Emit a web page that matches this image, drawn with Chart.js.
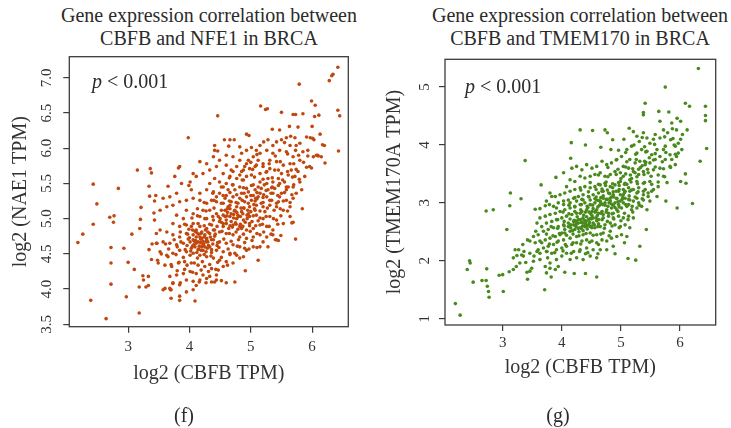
<!DOCTYPE html>
<html>
<head>
<meta charset="utf-8">
<script src="https://cdn.jsdelivr.net/npm/chart.js@4.4.1/dist/chart.umd.min.js"></script>
<style>
body { margin: 0; background: #fff; }
#wrap { position: relative; width: 731px; height: 428px; font-family: "Liberation Serif", serif; color: #2b2b2b; }
.ttl { position: absolute; text-align: center; font-size: 20px; line-height: 23px; white-space: nowrap; }
.pval { position: absolute; font-size: 20px; line-height: 20px; }
.tag { position: absolute; font-size: 20px; line-height: 20px; text-align: center; width: 40px; }
canvas { position: absolute; top: 0; }
</style>
</head>
<body>
<div id="wrap">
  <div class="ttl" style="left:49px;width:320px;top:4px;">Gene expression correlation between<br>CBFB and NFE1 in BRCA</div>
  <div class="ttl" style="left:420px;width:320px;top:4px;">Gene expression correlation between<br>CBFB and TMEM170 in BRCA</div>
  <canvas id="nae1Chart" width="370" height="428" style="left:0;"></canvas>
  <canvas id="tmemChart" width="361" height="428" style="left:370px;"></canvas>
  <div class="pval" style="left:92px;top:71px;"><i>p</i> &lt; 0.001</div>
  <div class="pval" style="left:465px;top:76px;"><i>p</i> &lt; 0.001</div>
  <div class="tag" style="left:164px;top:405px;">(f)</div>
  <div class="tag" style="left:538px;top:405px;">(g)</div>
</div>
<script>
// log2(CBFB TPM) vs log2(NAE1 TPM)
const nae1Points = [
  [2.18,4.66],[2.26,4.78],[2.39,3.84],[2.43,5.49],[2.43,4.92],[2.49,5.21],[2.64,3.58],[2.70,5.02],[2.77,5.04],[2.76,4.95],
  [2.72,4.59],[2.72,4.37],[2.72,4.07],[2.84,5.43],[2.93,4.58],[2.97,3.89],[3.00,4.38],[3.06,4.78],[3.10,4.28],[3.15,5.69],
  [3.18,3.66],[3.18,4.03],[3.19,4.86],[3.20,4.99],[3.21,5.16],[3.24,4.19],[3.25,4.13],[3.29,4.03],[3.33,4.18],[3.33,4.05],
  [3.34,4.56],[3.34,5.46],[3.35,5.32],[3.36,5.71],[3.38,5.65],[3.39,4.64],[3.38,4.42],[3.42,5.08],[3.43,5.25],[3.45,5.33],
  [3.46,4.79],[3.47,4.65],[3.48,4.41],[3.54,4.50],[3.57,3.99],[3.60,4.01],[3.61,4.64],[3.65,5.46],[3.68,4.01],[3.70,3.87],
  [3.70,3.99],[3.76,5.60],[3.82,5.72],[3.84,3.90],[3.84,3.84],[3.85,4.09],[3.98,6.15],[4.09,3.83],[4.11,4.05],[4.16,4.10],
  [4.27,4.09],[4.28,4.15],[4.36,4.10],[4.41,4.10],[4.44,4.13],[4.52,4.12],[4.60,4.09],[4.66,6.12],[4.57,6.12],[4.73,6.12],
  [4.74,4.10],[4.46,6.46],[4.41,6.04],[4.41,5.97],[4.46,5.96],[4.64,6.03],[4.93,6.20],[4.97,6.18],[5.16,6.60],[5.24,6.55],
  [5.27,6.56],[5.50,6.51],[5.69,6.48],[5.73,6.48],[5.79,6.91],[5.85,6.49],[5.99,6.67],[6.00,6.31],[6.04,6.45],[6.05,6.61],
  [6.11,6.47],[6.13,6.20],[6.20,6.04],[6.28,6.96],[6.32,7.03],[6.34,7.05],[6.42,7.15],[6.42,6.54],[6.45,6.46],[6.43,5.96],
  [5.73,4.71],[5.69,4.95],[5.84,5.14],[5.91,5.73],[5.96,5.74],[5.99,5.72],[6.07,5.90],[6.15,5.88],[6.03,6.12],[6.10,5.89],
  [5.74,6.04],[5.58,6.15],[5.63,6.31],[5.42,4.70],[5.45,4.69],[5.28,4.60],[5.36,4.77],[6.21,5.79],[6.17,6.05],[6.01,6.14],
  [6.09,5.90],[5.67,4.94],[5.49,4.76],[5.40,4.70],[5.12,4.41],[4.90,4.58],[4.74,4.51],[4.91,4.26],[3.99,5.47],[3.84,5.74],
  [3.69,3.99],[3.73,4.09],
  [5.35,6.27],[5.47,6.26],[5.65,6.17],[5.72,6.15],[5.77,6.30],[5.80,6.07],[5.91,6.16],[5.97,6.15],[5.73,5.97],[5.85,5.95],
  [5.93,5.89],[6.02,5.88],[5.64,6.04],[5.55,6.08],[5.50,6.12],[5.42,6.09],[5.36,6.04],[5.28,6.12],[5.21,6.09],[5.15,6.04],
  [5.09,5.97],[5.01,6.01],[4.93,5.97],[4.85,5.93],[4.82,5.83],[4.93,5.78],[5.04,5.88],[5.15,5.93],[5.26,5.97],[5.36,5.93],
  [5.47,5.97],[5.58,5.95],[5.69,5.88],[5.80,5.83],[5.64,5.78],[5.53,5.76],[5.42,5.81],[5.31,5.83],[5.20,5.78],[5.09,5.76],
  [4.98,5.71],[4.88,5.69],[4.77,5.74],[4.68,5.69],[4.60,5.76],[4.55,5.64],[4.66,5.60],[4.77,5.57],[4.88,5.55],[5.01,5.62],
  [5.15,5.64],[5.26,5.67],[5.39,5.69],[5.50,5.64],[5.61,5.62],[5.72,5.60],[5.80,5.52],[5.69,5.45],[5.58,5.41],[5.47,5.50],
  [5.36,5.52],[5.26,5.50],[5.15,5.52],[5.04,5.48],[4.93,5.43],[4.82,5.45],[4.71,5.48],[4.60,5.50],[4.49,5.52],[4.41,5.57],
  [4.33,5.50],[4.28,5.41],[4.39,5.38],[4.49,5.36],[4.60,5.33],[4.71,5.31],[4.82,5.29],[4.93,5.31],[5.04,5.33],[5.15,5.36],
  [5.26,5.31],[5.36,5.36],[5.47,5.31],[5.58,5.26],[5.69,5.29],[5.74,5.36],[5.64,5.17],[5.53,5.12],[5.42,5.17],[5.31,5.19],
  [5.20,5.17],[5.09,5.19],[4.98,5.17],[4.88,5.15],[4.77,5.17],[4.66,5.19],[4.55,5.22],[4.44,5.24],[4.36,5.26],[4.28,5.22],
  [4.17,5.26],[4.06,5.29],[4.03,5.41],[4.17,5.36],[4.22,5.12],[4.33,5.12],[4.44,5.07],[4.55,5.05],[4.66,5.03],[4.77,5.00],
  [4.88,4.98],[4.98,5.03],[5.09,5.05],[5.20,5.00],[5.31,5.03],[5.42,4.98],[5.53,4.93],[5.64,5.03],[5.36,4.84],[5.26,4.89],
  [5.15,4.91],[5.04,4.86],[4.93,4.84],[4.82,4.89],[4.71,4.91],[4.60,4.93],[4.49,4.96],[4.39,4.98],[4.28,5.00],[4.17,5.03],
  [4.06,5.07],[3.95,5.12],[3.90,5.00],[3.79,5.05],[3.73,4.93],[3.84,4.89],[3.95,4.91],[4.06,4.93],[4.17,4.89],[4.28,4.86],
  [4.39,4.84],[4.49,4.81],[4.60,4.79],[4.71,4.77],[4.82,4.74],[4.93,4.72],[5.04,4.74],[5.15,4.77],[5.26,4.74],[5.15,4.60],
  [5.04,4.60],[4.93,4.55],[4.82,4.60],[4.71,4.63],[4.60,4.65],[4.49,4.67],[4.39,4.70],[4.28,4.72],[4.17,4.74],[4.06,4.77],
  [3.95,4.79],[3.84,4.74],[3.73,4.77],[3.63,4.81],[3.52,4.84],[3.57,4.67],[3.68,4.65],[3.79,4.63],[3.90,4.65],[4.01,4.67],
  [4.11,4.65],[4.22,4.63],[4.33,4.60],[4.44,4.55],[4.55,4.53],[4.66,4.51],[4.77,4.48],[4.88,4.46],[4.71,4.37],[4.60,4.39],
  [4.49,4.41],[4.39,4.44],[4.28,4.46],[4.17,4.48],[4.06,4.51],[3.95,4.53],[3.84,4.55],[3.73,4.51],[3.63,4.48],[3.52,4.53],
  [3.49,4.37],[3.60,4.34],[3.71,4.32],[3.82,4.37],[3.92,4.39],[4.03,4.37],[4.14,4.34],[4.25,4.32],[4.36,4.29],[4.47,4.27],
  [4.55,4.32],[4.44,4.20],[4.33,4.18],[4.22,4.20],[4.11,4.22],[4.01,4.25],[3.90,4.22],[3.79,4.20],[3.68,4.18],[3.73,4.08],
  [3.84,4.06],[3.95,4.13],[4.06,4.11],[4.17,4.13],[3.95,3.96],[4.06,3.99],[3.46,4.65],[3.43,4.98],[3.52,5.12],[3.63,5.17],
  [3.73,5.19],[3.84,5.24],[3.95,5.26],[3.79,5.36],[3.68,5.31],[3.57,5.29],[3.87,5.50],[4.01,5.52],[4.11,5.60],[4.22,5.64],
  [4.33,5.69],[4.44,5.74],[4.28,5.78],[4.17,5.81],[4.06,5.64],[4.39,5.88],[4.49,5.83],[4.60,5.90],[4.71,5.88],[4.82,6.02],
  [4.11,4.74],[4.14,4.67],[4.20,4.72],[4.09,4.60],[4.03,4.58],[4.22,4.55],[4.20,4.81],[4.25,4.77],[4.30,4.67],[4.11,4.84],
  [4.36,4.91],[4.41,4.84],[4.47,5.03],[4.58,5.12],[4.63,5.17],[4.68,5.07],[4.74,5.12],[4.79,5.05],[4.85,5.10],[4.90,5.24],
  [4.96,5.07],[5.01,5.26],[5.07,5.12],[5.12,5.31],[5.17,5.22],[5.23,5.10],[5.28,5.41],[5.34,5.26],[5.39,5.43],[5.45,5.24],
  [5.50,5.36],[5.55,5.52],[5.61,5.45],[5.66,5.69],[5.77,5.67],[5.83,5.41],[5.88,5.60],[5.93,5.97],[5.12,5.83],[5.07,5.74],
  [4.96,5.83],[4.90,5.74],[5.20,5.74],[5.31,5.71],[4.93,5.60],[4.82,5.62],[4.71,5.67],[4.63,5.41],[4.52,5.45],[4.44,5.31],
  [4.58,5.29],[4.68,5.24],[4.79,5.22],[4.85,5.36],[4.74,5.41],[4.96,5.38],[5.07,5.41],[5.17,5.43],[5.28,5.57],[5.45,5.57]
];

// the packed centre of panel (f), read row by row
const nae1CorePoints = [
  [3.80,4.26],[3.92,4.28],[4.05,4.24],[4.19,4.27],[4.31,4.25],[4.43,4.28],
  [3.70,4.35],[3.83,4.38],[3.96,4.34],[4.08,4.37],[4.21,4.39],[4.33,4.35],[4.46,4.38],[4.62,4.34],
  [3.65,4.46],[3.78,4.49],[3.90,4.45],[4.01,4.48],[4.13,4.44],[4.24,4.49],[4.35,4.47],[4.52,4.45],[4.66,4.49],[4.82,4.44],
  [3.66,4.57],[3.80,4.60],[3.93,4.56],[4.05,4.61],[4.15,4.57],[4.25,4.60],[4.36,4.56],[4.48,4.59],[4.63,4.57],[4.78,4.61],[4.97,4.57],[5.10,4.59],
  [3.75,4.70],[3.86,4.67],[3.98,4.71],[4.08,4.68],[4.18,4.71],[4.27,4.67],[4.36,4.70],[4.46,4.66],[4.56,4.71],[4.68,4.68],[4.80,4.70],[4.90,4.66],[5.02,4.69],[5.20,4.67],
  [3.85,4.81],[3.97,4.78],[4.09,4.82],[4.19,4.79],[4.30,4.81],[4.42,4.78],[4.53,4.82],[4.65,4.79],[4.76,4.81],[4.88,4.78],[4.99,4.82],[5.10,4.79],[5.21,4.81],[5.33,4.78],
  [3.92,4.92],[4.03,4.89],[4.14,4.93],[4.24,4.90],[4.33,4.92],[4.45,4.89],[4.55,4.93],[4.66,4.90],[4.76,4.92],[4.87,4.89],[4.98,4.93],[5.08,4.90],[5.19,4.92],[5.30,4.89],[5.44,4.92],
  [4.04,5.01],[4.13,5.04],[4.25,5.00],[4.38,5.03],[4.50,5.00],[4.61,5.04],[4.72,5.01],[4.83,5.03],[4.94,5.00],[5.04,5.04],[5.15,5.01],[5.25,5.03],[5.37,5.00],[5.49,5.04],
  [4.13,5.14],[4.27,5.11],[4.40,5.15],[4.52,5.12],[4.62,5.14],[4.73,5.11],[4.84,5.15],[4.95,5.12],[5.06,5.14],[5.15,5.11],[5.27,5.15],[5.38,5.12],[5.48,5.14],[5.60,5.11],
  [4.24,5.23],[4.40,5.26],[4.52,5.22],[4.65,5.25],[4.76,5.23],[4.86,5.26],[4.96,5.22],[5.07,5.25],[5.20,5.23],[5.31,5.26],[5.42,5.22],[5.53,5.25],[5.64,5.23],
  [4.38,5.36],[4.55,5.33],[4.66,5.37],[4.77,5.34],[4.89,5.36],[5.00,5.33],[5.10,5.37],[5.21,5.34],[5.33,5.36],[5.44,5.33],[5.55,5.37],[5.67,5.34],
  [4.55,5.45],[4.70,5.48],[4.88,5.44],[5.01,5.47],[5.12,5.45],[5.22,5.48],[5.34,5.44],[5.45,5.47],[5.58,5.45],[5.70,5.48],
  [4.65,5.58],[4.86,5.55],[5.06,5.59],[5.20,5.56],[5.35,5.58],[5.52,5.55],[5.68,5.59],[5.79,5.56],
  [4.85,5.67],[5.03,5.70],[5.25,5.66],[5.45,5.69],[5.60,5.67],[5.74,5.70],
  [5.00,5.80],[5.30,5.78],[5.48,5.81],[5.70,5.78],[5.86,5.80],
  [5.10,5.91],[5.40,5.89],[5.60,5.92],[5.78,5.90]
];

// darkest blobs of panel (f): around (4.2, 4.65) and (4.7, 5.0)
const nae1DensePoints = [
  [4.02,4.54],[4.07,4.63],[4.12,4.52],[4.16,4.61],[4.19,4.55],[4.23,4.64],[4.27,4.53],[4.31,4.62],[4.34,4.74],[4.38,4.64],
  [4.00,4.73],[4.05,4.84],[4.10,4.69],[4.15,4.78],[4.22,4.68],[4.26,4.84],[4.29,4.58],[4.33,4.79],[4.14,4.56],[4.18,4.66],
  [3.96,4.62],[3.99,4.85],[4.24,4.74],[4.12,4.80],[4.36,4.52],[4.41,4.75],[4.45,4.62],[4.06,4.70],[4.20,4.60],[4.28,4.70],
  [4.55,4.89],[4.60,4.98],[4.64,4.86],[4.68,4.96],[4.72,5.06],[4.75,4.94],[4.80,5.03],[4.83,4.92],[4.87,5.07],[4.91,4.95],
  [4.58,5.03],[4.62,5.09],[4.70,4.88],[4.77,5.09],[4.85,4.86],[4.94,5.05],[4.52,4.95],[4.66,5.14],[4.79,4.85],[4.89,5.15],
  [5.00,5.10],[5.05,5.20],[5.10,5.28],[5.20,5.30],[5.25,5.40],[5.35,5.45],[5.02,4.96],[5.12,4.97],[4.98,4.90],[5.08,5.29]
];

// log2(CBFB TPM) vs log2(TMEM170A TPM)
const tmemPoints = [
  [2.20,1.26],[2.28,1.06],[2.40,1.85],[2.44,2.00],[2.45,1.96],[2.50,1.63],[2.65,1.66],[2.72,1.66],[2.73,1.86],[2.74,1.56],
  [2.76,1.47],[2.77,1.37],[2.72,2.86],[2.84,2.88],[2.94,1.75],[3.00,1.76],[3.01,1.47],[3.07,2.54],[3.12,2.95],[3.13,3.17],
  [3.31,3.07],[3.38,3.73],[3.11,1.81],[3.18,1.85],[3.23,1.90],[3.24,2.09],[3.32,2.10],[3.34,2.28],[3.42,2.36],[3.27,2.19],
  [3.36,2.16],[3.39,1.97],[3.41,1.80],[3.42,1.68],[3.46,1.82],[3.49,1.87],[3.56,2.51],[3.53,2.08],[3.58,2.16],[3.71,1.50],
  [3.63,2.02],[3.76,2.05],[3.80,1.87],[3.74,1.79],[3.82,1.72],[3.89,1.85],[3.94,1.90],[4.05,1.80],[4.21,1.78],[4.40,1.78],
  [4.59,1.72],[4.40,2.12],[4.61,2.12],[4.90,2.12],[5.12,2.04],[5.25,2.01],[5.06,2.31],[5.32,2.25],[5.43,2.54],[5.95,2.91],
  [6.21,2.99],[6.34,3.72],[6.45,3.94],[6.09,3.50],[6.10,3.34],[6.01,3.37],[5.76,3.03],[5.78,3.35],[6.31,5.32],[5.75,5.00],
  [5.41,4.72],[5.38,4.56],[5.38,4.52],[5.64,4.58],[5.66,4.41],[5.81,4.57],[5.95,4.46],[6.01,4.41],[6.09,4.72],[6.16,4.67],
  [6.43,4.67],[6.43,4.51],[6.43,4.42],[6.12,4.26],[6.04,4.18],[6.01,4.10],[5.86,4.38],[5.87,4.28],[5.94,4.26],[5.97,4.03],
  [4.31,4.26],[4.52,4.25],[4.16,4.04],[4.40,4.00],[4.73,4.26],[4.77,4.21],[4.86,4.09],[5.05,4.10],[4.96,3.91],[4.83,3.92],
  [4.66,3.96],[4.15,3.77],[4.03,3.52],[3.90,3.44],[3.65,3.31],[3.72,2.95],[3.79,2.97],[3.83,3.11],[3.55,2.89],[3.63,2.90],
  [5.14,4.29],[5.21,4.23],[5.27,4.15],[5.31,4.06],[5.38,4.21],[5.44,4.12],[5.49,4.03],[5.58,4.18],[5.66,4.12],[5.72,4.26],
  [5.79,4.21],[5.84,4.09],[5.92,3.98],[5.72,3.92],[5.61,3.92],[5.52,3.83],[5.44,3.89],[5.35,3.92],[5.27,3.86],[5.18,3.98],
  [5.10,3.92],[5.01,3.80],[4.93,3.75],[4.84,3.69],[4.76,3.66],[4.68,3.72],[4.59,3.63],[4.51,3.60],[4.42,3.66],[4.34,3.57],
  [4.25,3.63],[4.17,3.60],[5.15,3.75],[5.24,3.69],[5.32,3.72],[5.41,3.66],[5.49,3.69],[5.58,3.75],[5.66,3.80],[5.75,3.75],
  [5.83,3.83],[5.94,3.80],[6.03,3.92],[5.66,3.60],[5.55,3.57],[5.46,3.52],[5.38,3.54],[5.30,3.49],[5.21,3.54],[5.13,3.60],
  [5.04,3.63],[4.99,3.52],[4.90,3.54],[4.82,3.49],[4.73,3.46],[4.65,3.52],[4.56,3.49],[4.48,3.46],[4.39,3.43],[4.31,3.46],
  [4.22,3.37],[4.14,3.40],[4.08,3.28],[5.72,3.46],[5.83,3.63],[5.92,3.66],[5.97,3.86],[5.49,3.37],[5.38,3.34],[5.27,3.37],
  [5.15,3.40],[5.07,3.34],[4.99,3.37],[4.90,3.31],[4.82,3.28],[4.73,3.34],[4.65,3.31],[4.56,3.28],[4.48,3.26],[4.39,3.28],
  [4.31,3.26],[4.22,3.23],[4.14,3.20],[4.05,3.17],[3.97,3.14],[3.89,3.11],[3.80,3.17],[3.74,3.03],[3.86,2.94],[3.94,3.00],
  [4.03,3.03],[4.11,3.05],[4.20,3.08],[4.28,3.11],[4.36,3.14],[4.45,3.11],[4.53,3.14],[4.62,3.17],[4.70,3.20],[4.79,3.17],
  [4.87,3.14],[4.96,3.20],[5.04,3.23],[5.13,3.26],[5.21,3.23],[5.30,3.26],[5.38,3.20],[5.46,3.17],[5.55,3.23],[5.63,3.28],
  [5.61,3.11],[5.49,3.03],[5.38,3.05],[5.27,3.08],[5.15,3.05],[5.07,3.08],[4.99,3.03],[4.90,3.00],[4.82,3.03],[4.73,3.00],
  [4.65,3.03],[4.56,3.00],[4.48,2.97],[4.39,3.00],[4.31,2.97],[4.22,2.94],[4.14,2.91],[4.05,2.88],[3.97,2.85],[3.89,2.82],
  [3.80,2.80],[3.72,2.77],[3.63,2.74],[3.58,2.65],[3.66,2.59],[3.74,2.65],[3.83,2.68],[3.91,2.71],[4.00,2.74],[4.08,2.77],
  [4.17,2.80],[4.25,2.82],[4.34,2.85],[4.42,2.88],[4.51,2.85],[4.59,2.88],[4.68,2.85],[4.76,2.88],[4.84,2.91],[4.93,2.88],
  [5.01,2.91],[5.10,2.94],[5.18,2.88],[5.27,2.91],[5.35,2.94],[5.44,2.88],[5.21,2.74],[5.13,2.77],[5.04,2.74],[4.96,2.77],
  [4.87,2.74],[4.79,2.77],[4.70,2.74],[4.62,2.71],[4.53,2.74],[4.45,2.71],[4.36,2.74],[4.28,2.71],[4.20,2.68],[4.11,2.65],
  [4.03,2.62],[3.94,2.59],[3.86,2.57],[3.77,2.54],[3.69,2.51],[3.60,2.45],[3.52,2.42],[3.46,2.34],[3.55,2.31],[3.63,2.34],
  [3.72,2.36],[3.80,2.39],[3.89,2.42],[3.97,2.45],[4.05,2.48],[4.14,2.51],[4.22,2.54],[4.31,2.57],[4.39,2.59],[4.48,2.59],
  [4.56,2.57],[4.65,2.59],[4.73,2.62],[4.82,2.65],[4.90,2.62],[4.99,2.59],[5.07,2.62],[5.15,2.57],[4.82,2.51],[4.70,2.48],
  [4.59,2.45],[4.48,2.48],[4.36,2.45],[4.25,2.42],[4.14,2.39],[4.03,2.36],[3.94,2.34],[3.86,2.28],[3.77,2.25],[3.69,2.22],
  [3.60,2.19],[3.46,2.13],[3.35,2.08],[3.29,1.96],[3.52,1.99],[3.63,2.13],[3.74,2.16],[3.83,2.13],[3.91,2.19],[4.00,2.22],
  [4.08,2.25],[4.17,2.28],[4.25,2.31],[4.34,2.34],[4.42,2.36],[4.51,2.34],[4.59,2.31],[4.68,2.36],[4.76,2.34],[4.84,2.39],
  [4.93,2.42],[5.01,2.45],[5.10,2.42],[4.65,2.19],[4.53,2.19],[4.42,2.22],[4.31,2.19],[4.20,2.16],[4.08,2.13],[4.00,2.08],
  [3.91,2.02],[3.80,1.96],[3.72,1.90],[4.14,2.02],[4.25,2.05],[4.36,2.02],[4.48,2.08],[4.59,2.05],[4.76,2.19],[4.87,2.25],
  [3.21,2.19],[3.18,2.05],[4.00,2.48],[4.05,2.54],[4.11,2.59],[4.20,2.62],[4.28,2.65],[4.36,2.65],[4.45,2.62],[4.53,2.65],
  [4.62,2.82],[4.70,2.80],[4.79,2.82],[4.87,2.82],[4.96,2.97],[5.04,3.00],[5.13,2.97],[5.21,3.03],[5.30,3.00],[5.38,3.14],
  [5.46,3.11],[5.27,3.17],[5.15,3.20],[5.04,3.14],[4.93,3.08],[4.82,3.08],[4.70,3.08],[4.59,3.05],[4.48,3.05],[4.36,3.05],
  [4.25,3.03],[4.14,3.00],[4.03,2.97],[3.91,2.91]
];

// the packed centre of panel (g), read row by row
const tmemCorePoints = [
  [3.75,2.16],[3.88,2.14],[4.02,2.17],[4.16,2.13],[4.30,2.16],[4.44,2.14],
  [3.66,2.31],[3.79,2.29],[3.92,2.32],[4.06,2.28],[4.19,2.31],[4.32,2.29],[4.47,2.32],[4.62,2.28],
  [3.74,2.46],[3.85,2.43],[3.96,2.47],[4.08,2.44],[4.19,2.46],[4.29,2.43],[4.41,2.47],[4.53,2.44],[4.66,2.46],[4.80,2.43],
  [3.82,2.59],[3.93,2.56],[4.04,2.60],[4.15,2.57],[4.24,2.59],[4.33,2.56],[4.42,2.60],[4.51,2.57],[4.61,2.59],[4.72,2.56],[4.85,2.60],[4.97,2.57],
  [3.93,2.71],[4.04,2.68],[4.14,2.72],[4.23,2.69],[4.32,2.71],[4.41,2.68],[4.50,2.72],[4.59,2.69],[4.68,2.71],[4.77,2.68],[4.88,2.72],[5.00,2.69],[5.12,2.71],
  [4.02,2.84],[4.12,2.81],[4.22,2.85],[4.31,2.82],[4.40,2.84],[4.49,2.81],[4.57,2.85],[4.66,2.82],[4.75,2.84],[4.85,2.81],[4.95,2.85],[5.06,2.82],[5.20,2.84],
  [4.12,2.96],[4.22,2.93],[4.33,2.97],[4.43,2.94],[4.52,2.96],[4.61,2.93],[4.69,2.97],[4.78,2.94],[4.87,2.96],[4.97,2.93],[5.08,2.97],[5.19,2.94],[5.31,2.96],
  [4.22,3.09],[4.34,3.06],[4.46,3.10],[4.56,3.07],[4.66,3.09],[4.75,3.06],[4.84,3.10],[4.93,3.07],[5.03,3.09],[5.13,3.06],[5.24,3.10],[5.36,3.07],
  [4.32,3.22],[4.45,3.19],[4.58,3.23],[4.68,3.20],[4.77,3.22],[4.87,3.19],[4.97,3.23],[5.07,3.20],[5.18,3.22],[5.29,3.19],[5.41,3.23],[5.52,3.20],
  [4.48,3.35],[4.62,3.32],[4.75,3.36],[4.86,3.33],[4.96,3.35],[5.06,3.32],[5.17,3.36],[5.28,3.33],[5.40,3.35],[5.52,3.32],[5.63,3.36],
  [4.62,3.48],[4.78,3.45],[4.92,3.49],[5.04,3.46],[5.16,3.48],[5.27,3.45],[5.39,3.49],[5.51,3.46],[5.63,3.48],[5.74,3.45],
  [4.78,3.61],[4.95,3.58],[5.08,3.62],[5.20,3.59],[5.33,3.61],[5.45,3.58],[5.58,3.62],[5.72,3.59],[5.84,3.61],
  [4.92,3.74],[5.10,3.71],[5.26,3.75],[5.40,3.72],[5.55,3.74],[5.70,3.71],[5.86,3.75],
  [5.08,3.87],[5.25,3.84],[5.42,3.88],[5.58,3.85],[5.76,3.87],[5.92,3.84],
  [5.22,4.00],[5.40,3.97],[5.57,4.01],[5.75,3.98],[5.90,4.00],
  [5.36,4.13],[5.55,4.10],[5.74,4.14],[5.88,4.11]
];

// darkest blobs of panel (g): around (4.4, 2.7) and (4.8, 3.1)
const tmemDensePoints = [
  [4.18,2.52],[4.24,2.62],[4.29,2.50],[4.35,2.60],[4.38,2.70],[4.43,2.55],[4.47,2.66],[4.51,2.78],[4.55,2.62],[4.58,2.74],
  [4.26,2.76],[4.32,2.88],[4.37,2.79],[4.44,2.92],[4.48,2.73],[4.53,2.90],[4.21,2.70],[4.40,2.64],[4.46,2.84],[4.33,2.66],
  [4.28,2.56],[4.36,2.52],[4.50,2.60],[4.56,2.84],[4.62,2.64],[4.64,2.96],[4.60,2.78],[4.42,2.76],[4.25,2.66],[4.15,2.62],
  [4.66,3.00],[4.70,3.12],[4.73,2.96],[4.77,3.06],[4.81,3.16],[4.84,2.98],[4.88,3.10],[4.92,3.20],[4.95,3.02],[4.99,3.14],
  [4.68,3.24],[4.74,3.30],[4.80,3.00],[4.86,3.26],[4.90,2.92],[4.97,3.30],[5.02,3.06],[5.06,3.18],[5.10,3.32],[5.14,3.12],
  [5.18,3.42],[5.24,3.52],[5.30,3.58],[5.36,3.64],[5.42,3.70],[5.48,3.78],[4.58,3.10],[4.62,3.04],[5.00,3.42],[5.08,3.50]
];

// axis ranges and ticks
const nae1XRange = [2.04, 6.59];
const nae1YRange = [3.466, 7.30];
const nae1YStep = 0.5;
const tmemXRange = [2.024, 6.603];
const tmemYRange = [0.89, 5.48];
const tmemYStep = 1;

const serif = '"Liberation Serif", "Times New Roman", serif';
const inkColor = '#333333';
const axisColor = '#3c3c3c';

// box around the plot + rotated y tick labels (R style)
const rFrame = {
    id: 'rFrame',
    afterDraw(chart, args, opts) {
        const ctx = chart.ctx;
        const a = chart.chartArea;
        const y = chart.scales.y;
        ctx.save();
        ctx.strokeStyle = axisColor;
        ctx.lineWidth = 1.3;
        ctx.strokeRect(a.left, a.top, a.right - a.left, a.bottom - a.top);
        ctx.fillStyle = inkColor;
        ctx.font = '15px ' + serif;
        ctx.textAlign = 'center';
        ctx.textBaseline = 'middle';
        y.ticks.forEach(t => {
            const py = y.getPixelForValue(t.value);
            ctx.save();
            ctx.translate(opts.labelX, py);
            ctx.rotate(-Math.PI / 2);
            ctx.fillText(t.value.toFixed(opts.decimals), 0, 0);
            ctx.restore();
        });
        ctx.restore();
    }
};

function scatter(canvasId, points, color, xRange, yRange, yStep, yTitle, lay) {
    return new Chart(document.getElementById(canvasId), {
        type: 'scatter',
        data: {
            datasets: [{
                data: points.map(p => ({ x: p[0], y: p[1] })),
                backgroundColor: color,
                borderWidth: 0,
                pointRadius: 1.8,
                pointHoverRadius: 1.8
            }]
        },
        plugins: [rFrame],
        options: {
            responsive: false,
            animation: false,
            devicePixelRatio: 1,
            layout: { padding: { left: 0, top: lay.top, right: lay.right, bottom: lay.bottom } },
            plugins: {
                legend: { display: false },
                tooltip: { enabled: false },
                rFrame: { labelX: lay.yLabelX, decimals: lay.decimals }
            },
            scales: {
                x: {
                    type: 'linear',
                    min: xRange[0],
                    max: xRange[1],
                    afterFit: s => { s.height = 60; },
                    border: { display: false },
                    grid: { drawOnChartArea: false, drawTicks: true, tickLength: 6, color: axisColor, lineWidth: 1.2 },
                    ticks: { stepSize: 1, includeBounds: false, maxRotation: 0, color: inkColor, padding: lay.xTickPad, font: { family: serif, size: 15 } },
                    title: { display: true, text: 'log2 (CBFB TPM)', color: inkColor, font: { family: serif, size: 20 }, padding: { top: 0, bottom: lay.xTitlePad } }
                },
                y: {
                    type: 'linear',
                    min: yRange[0],
                    max: yRange[1],
                    afterFit: s => { s.width = lay.yWidth; },
                    border: { display: false },
                    grid: { drawOnChartArea: false, drawTicks: true, tickLength: 6, color: axisColor, lineWidth: 1.2 },
                    ticks: { stepSize: yStep, includeBounds: false, display: false },
                    title: { display: true, text: yTitle, color: inkColor, font: { family: serif, size: 20 }, padding: { top: lay.yTitlePad, bottom: 0 } }
                }
            }
        }
    });
}

scatter('nae1Chart', nae1Points.concat(nae1CorePoints, nae1DensePoints), 'rgb(192, 72, 14)', nae1XRange, nae1YRange, nae1YStep, 'log2 (NAE1 TPM)',
    { top: 56.7, right: 21.7, bottom: 41.3, yWidth: 69.3, yLabelX: 47, decimals: 1, xTickPad: 5, xTitlePad: 1, yTitlePad: 9 });

scatter('tmemChart', tmemPoints.concat(tmemCorePoints, tmemDensePoints), 'rgb(72, 138, 28)', tmemXRange, tmemYRange, tmemYStep, 'log2 (TMEM170A TPM)',
    { top: 59.3, right: 15.3, bottom: 43, yWidth: 75, yLabelX: 55, decimals: 0, xTickPad: 3, xTitlePad: 5, yTitlePad: 13 });
</script>
</body>
</html>
